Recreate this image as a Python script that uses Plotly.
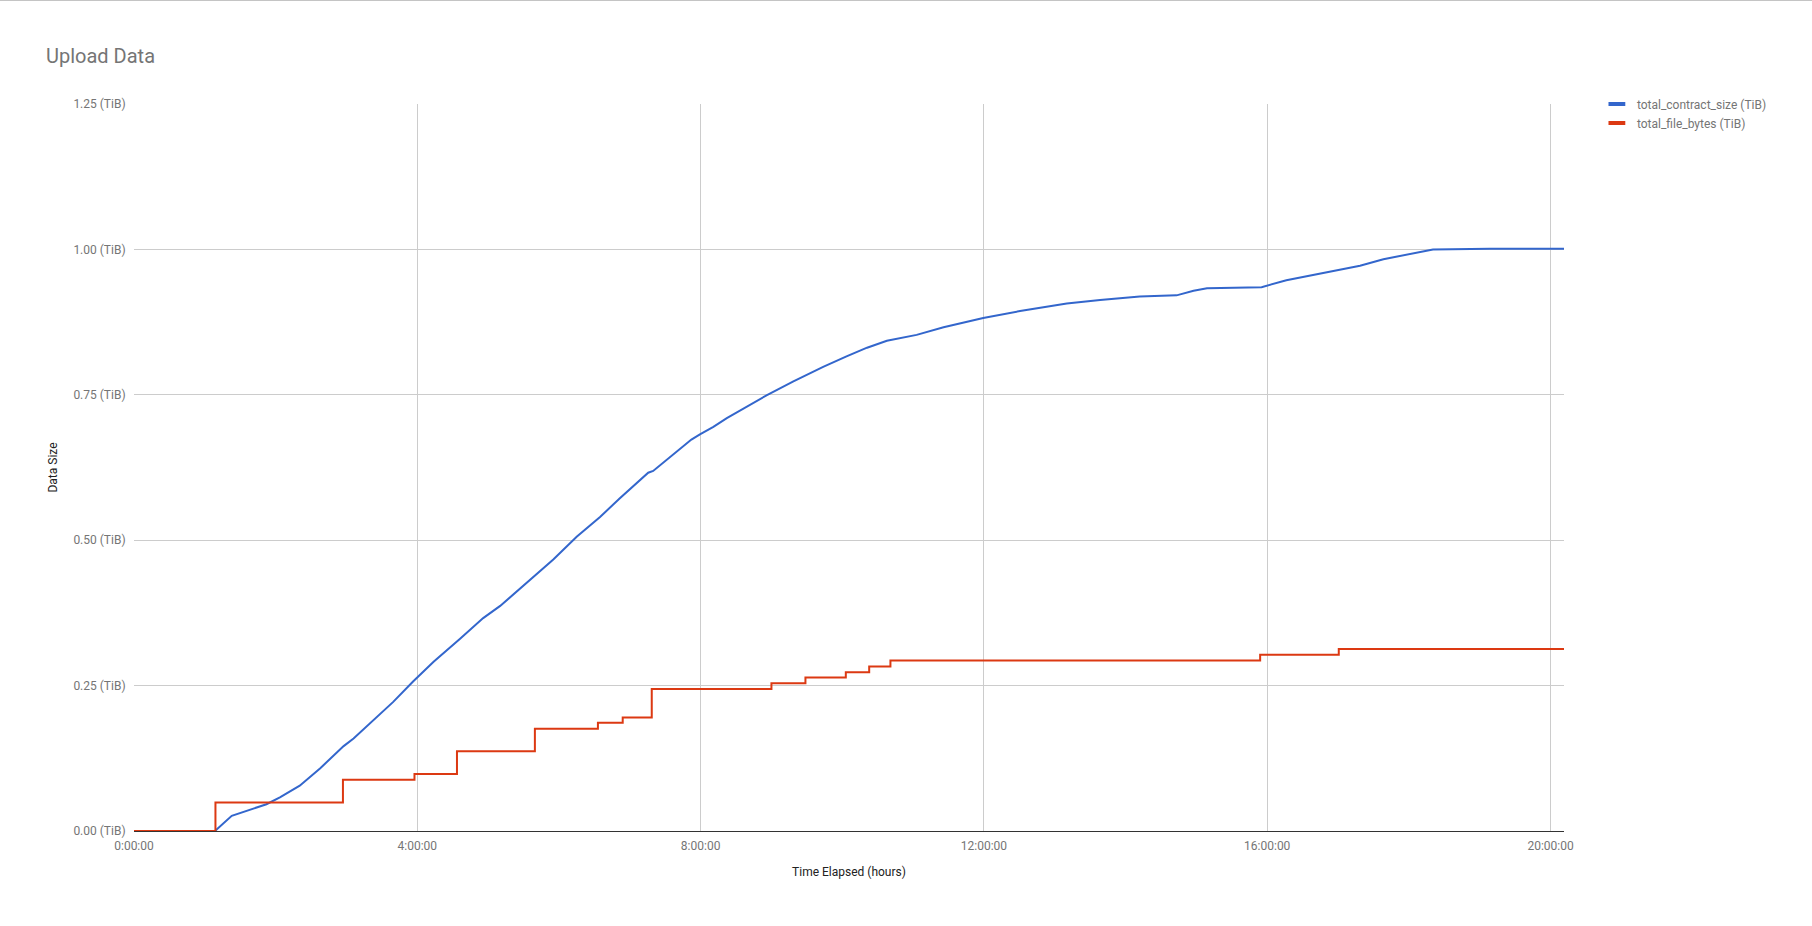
import plotly.graph_objects as go

# ---- data (hours elapsed, TiB) ----
contract_hours = [0, 1.143, 1.38, 1.64, 1.87, 2.06, 2.34, 2.63, 2.96, 3.10, 3.38, 3.66, 3.94,
                  4.23, 4.60, 4.93, 5.17, 5.45, 5.92, 6.25, 6.58, 6.86, 7.26, 7.33, 7.61, 7.87,
                  7.99, 8.18, 8.37, 8.65, 8.93, 9.31, 9.73, 10.06, 10.35, 10.63, 11.05, 11.43,
                  11.99, 12.51, 13.17, 13.64, 14.20, 14.72, 14.96, 15.15, 15.92, 16.27, 16.65,
                  17.31, 17.64, 18.16, 18.34, 19.14, 20.19]
contract_tib = [0, 0, 0.026, 0.037, 0.046, 0.058, 0.078, 0.108, 0.146, 0.159, 0.191, 0.222, 0.257,
                0.291, 0.330, 0.366, 0.387, 0.417, 0.467, 0.506, 0.540, 0.572, 0.616, 0.619,
                0.647, 0.673, 0.682, 0.695, 0.710, 0.730, 0.749, 0.773, 0.798, 0.816, 0.831,
                0.843, 0.853, 0.866, 0.882, 0.894, 0.907, 0.913, 0.919, 0.921, 0.929, 0.933,
                0.935, 0.947, 0.956, 0.972, 0.983, 0.995, 1.000, 1.001, 1.001]

file_hours = [0, 1.15, 2.95, 3.96, 4.56, 5.66, 6.55, 6.90, 7.31, 9.00, 9.48, 10.05, 10.38,
              10.68, 15.90, 17.01, 20.19]
file_tib = [0, 0.049, 0.088, 0.098, 0.137, 0.176, 0.186, 0.195, 0.244, 0.254, 0.264, 0.273,
            0.283, 0.293, 0.303, 0.313, 0.313]

series_names = ["total_contract_size (TiB)", "total_file_bytes (TiB)"]
series_colors = ["#3366cc", "#dc3912"]

x_tickvals = [0, 4, 8, 12, 16, 20]
x_ticktext = ["0:00:00", "4:00:00", "8:00:00", "12:00:00", "16:00:00", "20:00:00"]
y_tickvals = [0, 0.25, 0.5, 0.75, 1.0, 1.25]
y_ticktext = ["0.00 (TiB)", "0.25 (TiB)", "0.50 (TiB)", "0.75 (TiB)", "1.00 (TiB)", "1.25 (TiB)"]

FONT = "Roboto, Arial, sans-serif"
LABEL = "#757575"

fig = go.Figure()
fig.add_trace(go.Scatter(x=contract_hours, y=contract_tib, mode="lines",
                         name=series_names[0], showlegend=False,
                         line=dict(color=series_colors[0], width=2)))
fig.add_trace(go.Scatter(x=file_hours, y=file_tib, mode="lines",
                         name=series_names[1], showlegend=False,
                         line=dict(color=series_colors[1], width=2, shape="hv")))

# legend entries drawn as short thick swatches (Google-Charts style)
for name, color in zip(series_names, series_colors):
    fig.add_trace(go.Scatter(x=[None], y=[None], mode="markers", name=name,
                             hoverinfo="skip",
                             marker=dict(symbol="line-ew", size=12, color=color,
                                         line=dict(color=color, width=4))))

fig.update_layout(
    width=1812, height=926,
    margin=dict(l=134, r=248, t=104, b=95, autoexpand=False),
    paper_bgcolor="white", plot_bgcolor="white",
    font=dict(family=FONT, size=12, color=LABEL),
    title=dict(text="Upload Data", font=dict(family=FONT, size=20, color=LABEL),
               xref="container", yref="container", x=46 / 1812, xanchor="left",
               y=1 - 56 / 926, yanchor="middle"),
    showlegend=True,
    legend=dict(x=1.023, xanchor="left", y=1.02, yanchor="top",
                font=dict(family=FONT, size=12, color=LABEL),
                bgcolor="rgba(0,0,0,0)", tracegroupgap=0, itemwidth=30),
    xaxis=dict(range=[0, 20.19], tickvals=x_tickvals, ticktext=x_ticktext,
               showgrid=True, gridcolor="#cccccc", gridwidth=1,
               zeroline=False, showline=False,
               ticks="outside", ticklen=4, tickcolor="rgba(0,0,0,0)",
               tickfont=dict(family=FONT, size=12, color=LABEL),
               title=dict(text="Time Elapsed (hours)", standoff=15,
                          font=dict(family=FONT, size=12, color="#222222"))),
    yaxis=dict(range=[0, 1.25], tickvals=y_tickvals, ticktext=y_ticktext,
               showgrid=True, gridcolor="#cccccc", gridwidth=1,
               zeroline=True, zerolinecolor="#333333", zerolinewidth=1,
               showline=False,
               ticks="outside", ticklen=5, tickcolor="rgba(0,0,0,0)",
               tickfont=dict(family=FONT, size=12, color=LABEL),
               title=dict(text="Data Size", standoff=13,
                          font=dict(family=FONT, size=12, color="#222222"))),
)

# thin grey frame line at the very top of the page
fig.add_shape(type="line", xref="paper", yref="paper",
              x0=-134 / 1430, x1=(1812 - 134) / 1430,
              y0=(831 - 0.5) / 727, y1=(831 - 0.5) / 727,
              line=dict(color="#c4c4c4", width=1))

fig.write_html("out.html", config={"displayModeBar": False},
               post_script="document.body.style.margin='0';")
